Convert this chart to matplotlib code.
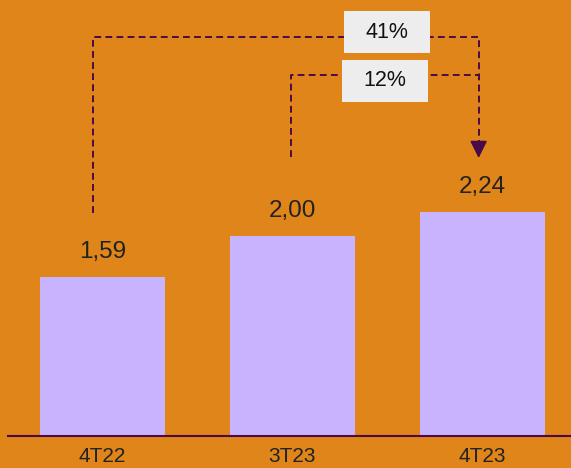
import matplotlib
matplotlib.use("Agg")
from matplotlib import pyplot as plt
from matplotlib.patches import Rectangle

# data
quarters = ["4T22", "3T23", "4T23"]
values = [1.59, 2.00, 2.24]
value_labels = ["1,59", "2,00", "2,24"]
growth_labels = ["41%", "12%"]

BG = "#DF8519"
BAR = "#C8B4FE"
LINE = "#4A0A48"
BOX = "#EDEDED"

plt.rcParams["font.family"] = ["Liberation Sans", "DejaVu Sans"]

fig = plt.figure(figsize=(5.71, 4.68), dpi=100)
fig.patch.set_facecolor(BG)
ax = fig.add_axes([8 / 571, 32 / 468, 563 / 571, 436 / 468])
ax.set_facecolor(BG)

x = list(range(len(quarters)))
ax.bar(x, values, width=0.658, color=BAR, zorder=2)
ax.set_xlim(-0.497, 2.466)
ax.set_ylim(0, 4.36)

for xi, v, lbl in zip(x, values, value_labels):
    ax.text(xi, v + 0.25, lbl, ha="center", va="center", fontsize=17.5, color="#222222")

ax.set_xticks(x)
ax.set_xticklabels(quarters, fontsize=15, color="#222222")
ax.tick_params(axis="x", length=0, pad=8)
ax.set_yticks([])
for side in ["top", "right", "left"]:
    ax.spines[side].set_visible(False)
ax.spines["bottom"].set_color(LINE)
ax.spines["bottom"].set_linewidth(1.5)

dash = dict(color=LINE, lw=1.4, linestyle=(0, (3.5, 2.2)), zorder=3)

# 41% bracket: 4T22 -> 4T23
top1 = 3.99
ax.plot([x[0] - 0.05, x[0] - 0.05, x[2] - 0.02, x[2] - 0.02],
        [values[0] + 0.64, top1, top1, values[2] + 0.66], **dash)
# 12% bracket: 3T23 -> 4T23
top2 = 3.61
ax.plot([x[1] - 0.01, x[1] - 0.01, x[2] - 0.02],
        [values[1] + 0.79, top2, top2], **dash)
ax.annotate("", xy=(x[2] - 0.02, values[2] + 0.54), xytext=(x[2] - 0.02, values[2] + 0.68),
            arrowprops=dict(arrowstyle="-|>,head_length=0.7,head_width=0.35", color=LINE,
                            lw=1.2, mutation_scale=15, shrinkA=0, shrinkB=0), zorder=4)

# growth boxes
for (cx, cy), lbl in zip([(1.497, 4.04), (1.487, 3.555)], growth_labels):
    ax.add_patch(Rectangle((cx - 0.2265, cy - 0.21), 0.453, 0.42, facecolor=BOX,
                           edgecolor="none", zorder=5))
    ax.text(cx, cy, lbl, ha="center", va="center", fontsize=15.5, color="#111111", zorder=6)

fig.savefig("out.png", dpi=100, facecolor=BG)
